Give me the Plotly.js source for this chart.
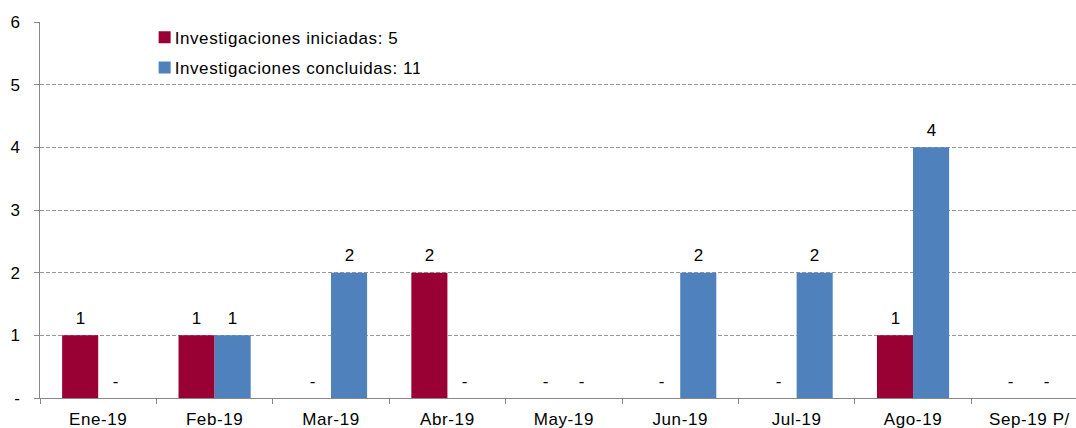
<!DOCTYPE html>
<html>
<head>
<meta charset="utf-8">
<script src="https://cdn.plot.ly/plotly-3.0.1.min.js"></script>
<style>
html,body{margin:0;padding:0;background:#fff;}
#chart{width:1076px;height:428px;}
#chart svg text{letter-spacing:0.6px;}
#chart .legendtext{transform:translateX(-10px);}
</style>
</head>
<body>
<div id="chart"></div>
<script>
const categories = ["Ene-19","Feb-19","Mar-19","Abr-19","May-19","Jun-19","Jul-19","Ago-19","Sep-19 P/"];
const iniciadas = [1,1,0,2,0,0,0,1,0];
const concluidas = [0,1,2,0,0,2,2,4,0];
const seriesNames = ["Investigaciones iniciadas: 5","Investigaciones concluidas: 11"];
const yTickVals = [0,1,2,3,4,5,6];
const yTickText = ["-","1","2","3","4","5","6"];

const lbl = v => v === 0 ? "-" : String(v);
const font = {family: "Liberation Sans, Arial, sans-serif", size: 17, color: "#000"};

const traces = [
  {type:"bar", name: seriesNames[0], legendgroup:"a", x: categories, y: iniciadas,
   marker:{color:"#990033", line:{width:0}}},
  {type:"bar", name: seriesNames[1], legendgroup:"b", x: categories, y: concluidas,
   marker:{color:"#4F81BD", line:{width:0}}}
];

const annotations = [];
[[iniciadas,-18],[concluidas,18]].forEach(([vals,dx]) => {
  vals.forEach((v,i) => annotations.push({
    x: categories[i], y: v, xref:"x", yref:"y", text: lbl(v), showarrow:false,
    xshift: dx, yshift: 17, yanchor:"middle", xanchor:"center", font: font
  }));
});

const layout = {
  width:1076, height:428,
  margin:{l:40, r:0, t:22, b:30},
  paper_bgcolor:"#fff", plot_bgcolor:"#fff",
  font: font,
  barmode:"group", bargap:0.38, bargroupgap:0,
  showlegend:true,
  legend:{x:0.101, y:1.006, xanchor:"left", yanchor:"top", bgcolor:"rgba(0,0,0,0)",
          font:font, itemwidth:30, traceorder:"grouped", tracegroupgap:5},
  annotations: annotations,
  xaxis:{type:"category", range:[-0.5, 8.4], tickson:"boundaries", ticks:"outside",
         ticklen:5, tickcolor:"#888", showline:true, linecolor:"#888", linewidth:1,
         showgrid:false, tickfont:font, ticklabelstandoff:6, fixedrange:true},
  yaxis:{range:[0,6], tickvals:yTickVals, ticktext:yTickText, ticks:"outside", ticklen:5,
         tickcolor:"#888", showline:true, linecolor:"#888", linewidth:1,
         showgrid:true, gridcolor:"#999", griddash:"4px,2px", gridwidth:1, zeroline:false,
         tickfont:font, ticklabelstandoff:10, fixedrange:true}
};

Plotly.newPlot("chart", traces, layout, {displayModeBar:false, staticPlot:true});
</script>
</body>
</html>
